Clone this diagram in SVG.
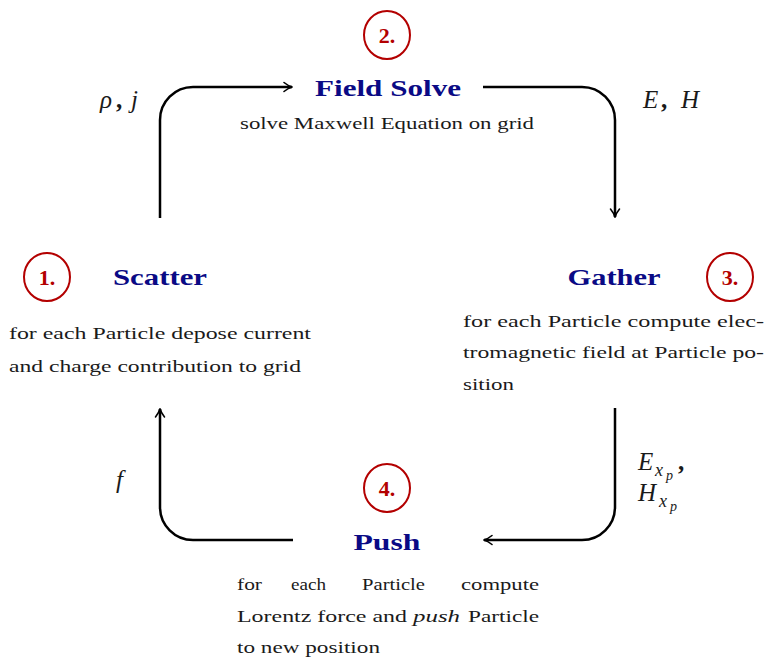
<svg xmlns="http://www.w3.org/2000/svg" width="764" height="657" viewBox="0 0 764 657">
<style>
  .title { font-family: "Liberation Serif", "DejaVu Serif", serif; font-weight: bold; font-size: 24px; fill: #0a0a85; text-anchor: middle; }
  .num { font-family: "Liberation Serif", "DejaVu Serif", serif; font-weight: bold; font-size: 22px; fill: #b30000; text-anchor: middle; }
  .ring { fill: none; stroke: #b30000; stroke-width: 2; }
  .body { font-family: "Liberation Serif", "DejaVu Serif", serif; font-size: 17.5px; fill: #1a1a1a; }
  .math { font-family: "Liberation Serif", "DejaVu Serif", serif; font-style: italic; font-size: 25px; fill: #1a1a1a; }
  .comma { font-style: normal; font-weight: bold; }
  .conn { fill: none; stroke: #000; stroke-width: 2.5; }
</style>
<defs>
  <marker id="arr" markerUnits="userSpaceOnUse" viewBox="-10 -6 12 12" refX="0" refY="0" markerWidth="12" markerHeight="12" orient="auto">
    <path d="M-8,-4.5 C-5,-2 -2,-0.6 0.5,0 C-2,0.6 -5,2 -8,4.5" fill="none" stroke="#000" stroke-width="1.6" stroke-linecap="round"/>
  </marker>
</defs>
<rect width="764" height="657" fill="#fff"/>

<g id="connectors">
  <path class="conn" d="M160 218 V120 A33 33 0 0 1 193 87 H292" marker-end="url(#arr)"/>
  <path class="conn" d="M483 87 H582 A33 33 0 0 1 615 120 V217" marker-end="url(#arr)"/>
  <path class="conn" d="M615 408 V507 A33 33 0 0 1 582 540 H484" marker-end="url(#arr)"/>
  <path class="conn" d="M293 540 H193 A33 33 0 0 1 160 507 V409" marker-end="url(#arr)"/>
</g>

<g id="field-solve">
  <ellipse class="ring" cx="387" cy="35" rx="23" ry="24"/>
  <text class="num" x="387" y="43">2.</text>
  <text class="title" x="388" y="96" textLength="146" lengthAdjust="spacingAndGlyphs">Field Solve</text>
  <text class="body" x="240" y="129" textLength="294" lengthAdjust="spacingAndGlyphs">solve Maxwell Equation on grid</text>
</g>

<g id="scatter">
  <ellipse class="ring" cx="47" cy="277" rx="23" ry="24"/>
  <text class="num" x="47" y="285">1.</text>
  <text class="title" x="160" y="285" textLength="94" lengthAdjust="spacingAndGlyphs">Scatter</text>
  <text class="body" x="9" y="339" textLength="302" lengthAdjust="spacingAndGlyphs">for each Particle depose current</text>
  <text class="body" x="9" y="372" textLength="292" lengthAdjust="spacingAndGlyphs">and charge contribution to grid</text>
</g>

<g id="gather">
  <ellipse class="ring" cx="730" cy="277" rx="23" ry="24"/>
  <text class="num" x="730" y="285">3.</text>
  <text class="title" x="614" y="285" textLength="93" lengthAdjust="spacingAndGlyphs">Gather</text>
  <text class="body" x="463" y="327" textLength="301" lengthAdjust="spacingAndGlyphs">for each Particle compute elec-</text>
  <text class="body" x="463" y="358" textLength="301" lengthAdjust="spacingAndGlyphs">tromagnetic field at Particle po-</text>
  <text class="body" x="463" y="390" textLength="51" lengthAdjust="spacingAndGlyphs">sition</text>
</g>

<g id="push">
  <ellipse class="ring" cx="387" cy="488" rx="23" ry="24"/>
  <text class="num" x="387" y="496">4.</text>
  <text class="title" x="387" y="550" textLength="67" lengthAdjust="spacingAndGlyphs">Push</text>
  <text class="body" y="590"><tspan x="237" textLength="25" lengthAdjust="spacingAndGlyphs">for</tspan><tspan x="291" textLength="35" lengthAdjust="spacingAndGlyphs">each</tspan><tspan x="362" textLength="63" lengthAdjust="spacingAndGlyphs">Particle</tspan><tspan x="461" textLength="78" lengthAdjust="spacingAndGlyphs">compute</tspan></text>
  <text class="body" y="622"><tspan x="237" textLength="170" lengthAdjust="spacingAndGlyphs">Lorentz force and</tspan><tspan x="413" font-style="italic" textLength="47" lengthAdjust="spacingAndGlyphs">push</tspan><tspan x="468" textLength="71" lengthAdjust="spacingAndGlyphs">Particle</tspan></text>
  <text class="body" x="237" y="653" textLength="143" lengthAdjust="spacingAndGlyphs">to new position</text>
</g>

<g id="labels">
  <text class="math" y="108"><tspan x="100">ρ</tspan><tspan class="comma" x="116">,</tspan><tspan x="131">j</tspan></text>
  <text class="math" y="108"><tspan x="643">E</tspan><tspan class="comma" x="661">,</tspan><tspan x="681">H</tspan></text>
  <text class="math" x="116" y="488">f</text>
  <text class="math" y="470"><tspan x="638">E</tspan><tspan x="655" y="476" font-size="18">x</tspan><tspan x="666" y="480" font-size="14">p</tspan><tspan class="comma" x="678" y="470">,</tspan></text>
  <text class="math" y="501"><tspan x="638">H</tspan><tspan x="659" y="507" font-size="18">x</tspan><tspan x="670" y="511" font-size="14">p</tspan></text>
</g>
</svg>
